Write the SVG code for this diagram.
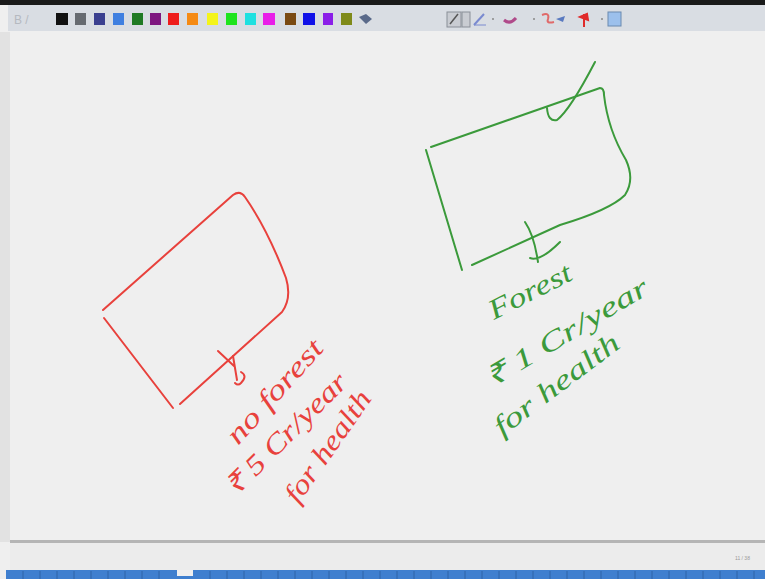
<svg xmlns="http://www.w3.org/2000/svg" width="765" height="579" viewBox="0 0 765 579">
<style>
.red{fill:none;stroke:#e8413c;stroke-width:2;stroke-linecap:round;stroke-linejoin:round}
.grn{fill:none;stroke:#3b9a3b;stroke-width:2;stroke-linecap:round;stroke-linejoin:round}
.rt{fill:#e8413c;font-family:"Liberation Serif",serif;font-style:italic;font-size:28px}
.gt{fill:#3b9a3b;font-family:"Liberation Serif",serif;font-style:italic;font-size:28px}
.sw{stroke:none}
</style>
<rect width="765" height="579" fill="#efefef"/>
<rect x="0" y="32" width="10" height="510" fill="#e2e2e2"/>
<!-- toolbar -->
<g id="toolbar">
<rect x="0" y="0" width="765" height="5" fill="#1a1a1a"/>
<rect x="8" y="5" width="757" height="26" fill="#d9dde3"/>
<text x="14" y="24" font-family="Liberation Sans,sans-serif" font-size="12" fill="#b5b9c0">B /</text>
<rect class="sw" x="56" y="13" width="12" height="12" fill="#111"/>
<rect class="sw" x="75" y="13" width="11" height="12" fill="#666a70"/>
<rect class="sw" x="94" y="13" width="11" height="12" fill="#3a3f8f"/>
<rect class="sw" x="113" y="13" width="11" height="12" fill="#3f7fe0"/>
<rect class="sw" x="132" y="13" width="11" height="12" fill="#1f7a24"/>
<rect class="sw" x="150" y="13" width="11" height="12" fill="#7d1680"/>
<rect class="sw" x="168" y="13" width="11" height="12" fill="#ee1c1c"/>
<rect class="sw" x="187" y="13" width="11" height="12" fill="#f58a14"/>
<rect class="sw" x="207" y="13" width="11" height="12" fill="#f4f41a"/>
<rect class="sw" x="226" y="13" width="11" height="12" fill="#1ee41e"/>
<rect class="sw" x="245" y="13" width="11" height="12" fill="#1ee0e0"/>
<rect class="sw" x="263" y="13" width="12" height="12" fill="#e81ee8"/>
<rect class="sw" x="285" y="13" width="11" height="12" fill="#7a4a12"/>
<rect class="sw" x="303" y="13" width="12" height="12" fill="#1010e8"/>
<rect class="sw" x="323" y="13" width="10" height="12" fill="#8a1ee8"/>
<rect class="sw" x="341" y="13" width="11" height="12" fill="#7f8a1a"/>
<path d="M359 17 L366 14 L372 19 L366 24 Z" fill="#5a6a8a"/>
<rect x="447" y="12" width="14" height="15" fill="#c9ccd2" stroke="#8a8f98" stroke-width="1"/>
<path d="M450 24 L458 14" stroke="#555" stroke-width="1.5"/>
<rect x="462" y="12" width="8" height="15" fill="#c9ccd2" stroke="#8a8f98" stroke-width="1"/>
<path d="M474 25 L484 14" stroke="#7a8ad0" stroke-width="2"/>
<path d="M474 25 L486 25" stroke="#7a8ad0" stroke-width="1"/>
<circle cx="493" cy="19" r="1" fill="#888"/>
<path d="M504 20 Q510 25 516 18" stroke="#b04a8a" stroke-width="3" fill="none"/>
<circle cx="534" cy="19" r="1" fill="#888"/>
<path d="M542 15 Q550 12 548 19 Q546 24 554 22" stroke="#e06a6a" stroke-width="2" fill="none"/>
<path d="M556 19 L565 16 L563 22 Z" fill="#5a7ac0"/>
<path d="M584 14 L584 27 M580 17 L587 14 L588 20 Z" stroke="#e02a2a" stroke-width="2" fill="#e02a2a"/>
<circle cx="602" cy="19" r="1" fill="#888"/>
<rect x="608" y="12" width="13" height="14" fill="#9cc0ec" stroke="#6a8ab0" stroke-width="1"/>
</g>
<!-- bottom -->
<rect x="10" y="540" width="755" height="3" fill="#b5b5b5"/>
<rect x="10" y="543" width="755" height="27" fill="#ececec"/>
<text x="735" y="560" font-family="Liberation Sans,sans-serif" font-size="5" fill="#999">11 / 38</text>
<g id="statusbar">
<rect x="6" y="570" width="759" height="9" fill="#3f7fcf"/>
<rect x="177" y="570" width="16" height="6" fill="#efefef"/>
<g stroke="#2f64a8" stroke-width="1">
<path d="M23 571v8M40 571v8M57 571v8M74 571v8M91 571v8M108 571v8M125 571v8M142 571v8M159 571v8M210 571v8M227 571v8M244 571v8M261 571v8M278 571v8M295 571v8M312 571v8M329 571v8M346 571v8M363 571v8M380 571v8M397 571v8M414 571v8M431 571v8M448 571v8M465 571v8M482 571v8M499 571v8M516 571v8M533 571v8M550 571v8M567 571v8M584 571v8M601 571v8M618 571v8M635 571v8M652 571v8M669 571v8M686 571v8M703 571v8M720 571v8M737 571v8M754 571v8"/>
</g>
</g>
<!-- red plot -->
<g id="red-plot">
<path class="red" d="M103 310 L233 195 Q240 190 245 197 Q268 230 286 278 Q292 298 282 312 L180 404"/>
<path class="red" d="M104 318 L173 408"/>
</g>
<!-- green plot -->
<g id="green-plot">
<path class="grn" d="M431 147 L600 88 Q604 88 604 95 Q608 130 626 160 Q635 180 625 195 Q610 210 560 225 L472 265"/>
<path class="grn" d="M426 150 L462 270"/>
<path class="grn" d="M547 108 Q548 122 557 120 Q570 110 595 62"/>
</g>
<g id="connectors">
<path class="red" d="M218 351 L234 366 M233 356 L237 380 M241 372 Q248 376 241 383 Q238 386 235 383"/>
<path class="grn" d="M525 222 Q534 235 538 262 M530 258 Q540 262 560 242"/>
</g>
<g id="red-label">
<text class="rt" x="238" y="446" textLength="130" lengthAdjust="spacingAndGlyphs" transform="rotate(-48 238 446)">no forest</text>
<text class="rt" x="236" y="497" textLength="160" lengthAdjust="spacingAndGlyphs" transform="rotate(-45 236 497)">₹ 5 Cr/year</text>
<text class="rt" x="298" y="505" textLength="130" lengthAdjust="spacingAndGlyphs" transform="rotate(-55 298 505)">for health</text>
</g>
<g id="green-label">
<text class="gt" x="494" y="320" textLength="90" lengthAdjust="spacingAndGlyphs" transform="rotate(-27 494 320)">Forest</text>
<text class="gt" x="492" y="388" textLength="185" lengthAdjust="spacingAndGlyphs" transform="rotate(-31 492 388)">₹ 1 Cr/year</text>
<text class="gt" x="502" y="437" textLength="150" lengthAdjust="spacingAndGlyphs" transform="rotate(-37 502 437)">for health</text>
</g>
</svg>
